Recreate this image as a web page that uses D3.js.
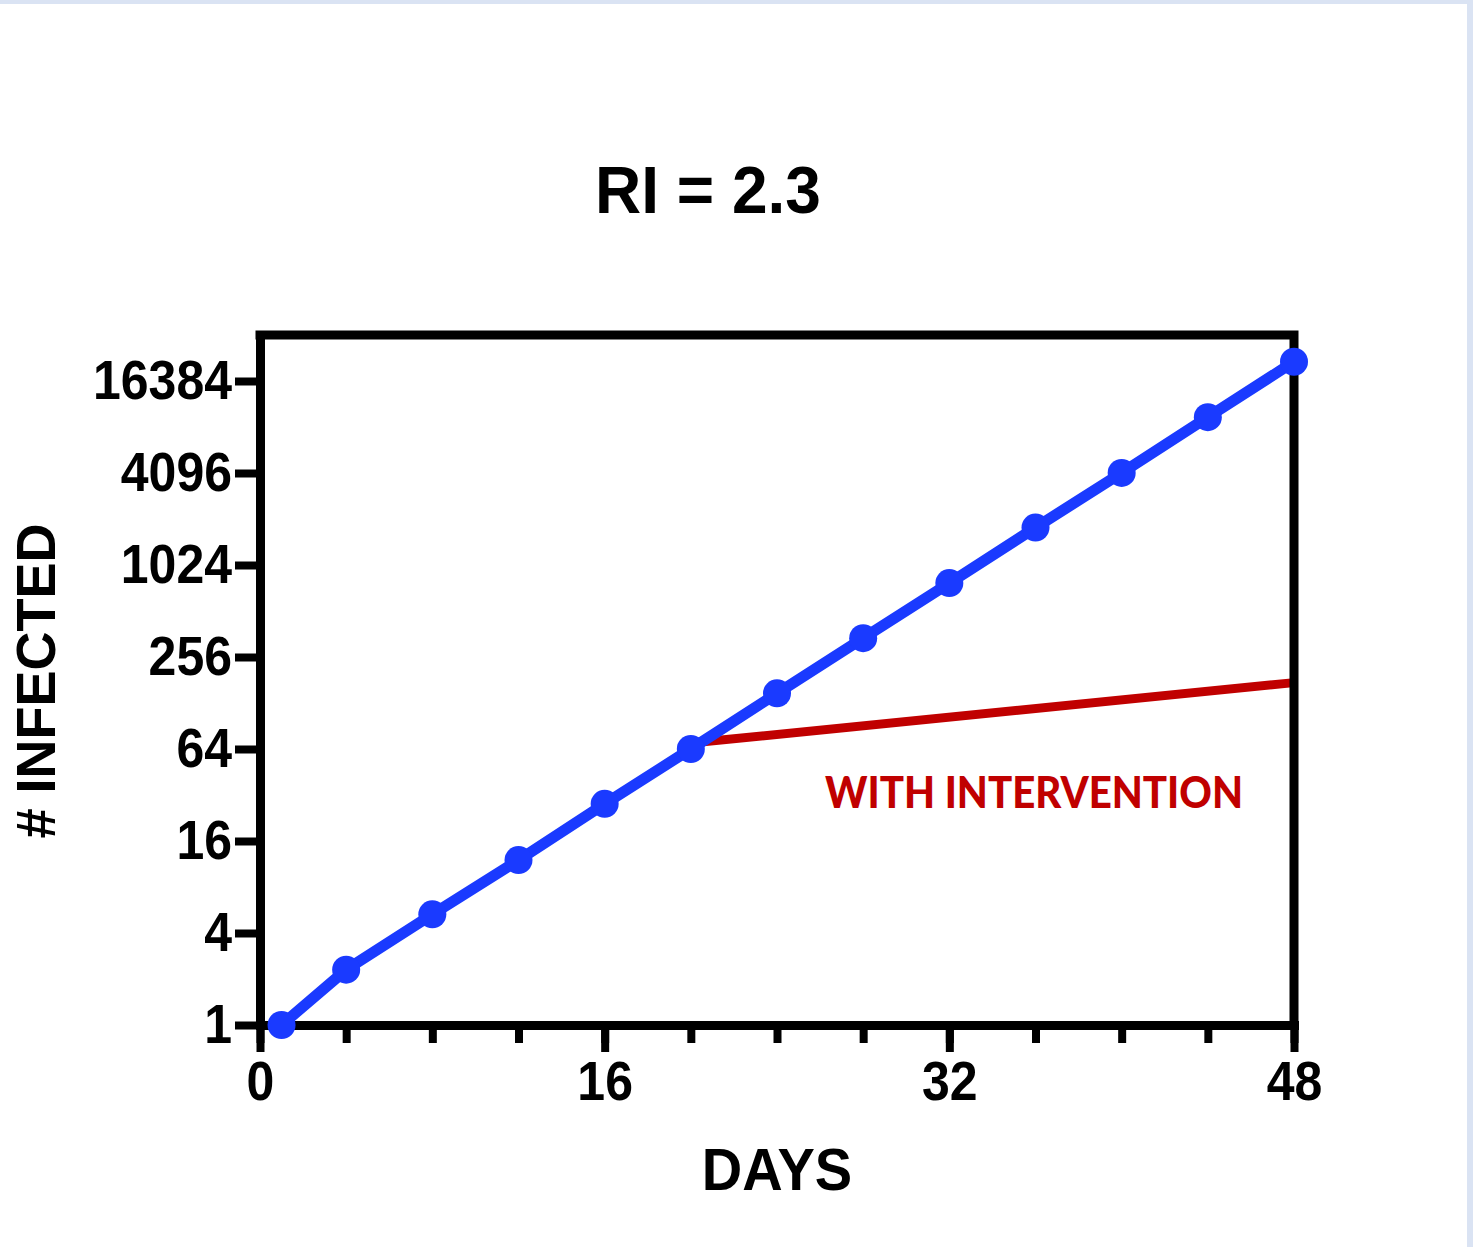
<!DOCTYPE html>
<html lang="en">
<head>
    <meta charset="UTF-8">
    <title>RI = 2.3</title>
    <script src="https://d3js.org/d3.v7.min.js"></script>
    <style>
        body { margin: 0; background: #fff; }
        svg { display: block; }
    </style>
</head>
<body>
<script>
    // data
    var days = [1, 4, 8, 12, 16, 20, 24, 28, 32, 36, 40, 44, 48];
    var infected = [1, 2.3, 5.3, 12, 28, 64, 148, 340, 780, 1800, 4100, 9500, 21900];
    var interventionDays = [20, 48];
    var interventionInfected = [70, 174];
    var yTicks = [1, 4, 16, 64, 256, 1024, 4096, 16384];
    var xTicks = [0, 16, 32, 48];
    var xMinorTicks = [0, 4, 8, 12, 16, 20, 24, 28, 32, 36, 40, 44, 48];

    var W = 1473, H = 1247;
    var boldFont = "'Liberation Sans', Arial, sans-serif";

    var svg = d3.select("body").append("svg")
        .attr("width", W)
        .attr("height", H);

    // page border (top and right)
    svg.append("rect").attr("x", 0).attr("y", 0).attr("width", W).attr("height", 4).attr("fill", "#dae3f3");
    svg.append("rect").attr("x", 1467).attr("y", 0).attr("width", 6).attr("height", H).attr("fill", "#dae3f3");

    // scales
    var x = d3.scaleLinear().domain([0, 48]).range([260, 1294]);
    var y = d3.scaleLog().base(2).domain([1, 32768]).range([1025, 335]);

    // title
    svg.append("text")
        .attr("transform", "translate(708,213) scale(1,1.05)")
        .attr("text-anchor", "middle")
        .style("font-family", boldFont)
        .style("font-weight", "bold")
        .style("font-size", "64px")
        .text("RI = 2.3");

    // red intervention line (under the frame)
    var line = d3.line()
        .x(function (d) { return x(d[0]); })
        .y(function (d) { return y(d[1]); });

    svg.append("path")
        .datum(d3.zip(interventionDays, interventionInfected))
        .attr("d", line)
        .attr("fill", "none")
        .attr("stroke", "#c00000")
        .attr("stroke-width", 9);

    // frame top + right
    svg.append("path")
        .attr("d", "M" + x(0) + "," + y(32768) + "H" + x(48) + "V" + y(1))
        .attr("fill", "none")
        .attr("stroke", "#000")
        .attr("stroke-width", 9)
        .attr("stroke-linecap", "square");

    // y axis
    var yAxis = svg.append("g")
        .attr("transform", "translate(" + x(0) + ",0)")
        .call(d3.axisLeft(y).tickValues(yTicks).tickSize(25).tickSizeOuter(0).tickFormat(d3.format("d")));

    // x axis minor ticks
    var xMinor = svg.append("g")
        .attr("transform", "translate(0," + y(1) + ")")
        .call(d3.axisBottom(x).tickValues(xMinorTicks).tickSize(18).tickSizeOuter(0).tickFormat(""));
    xMinor.select(".domain").remove();

    // x axis major ticks
    var xAxis = svg.append("g")
        .attr("transform", "translate(0," + y(1) + ")")
        .call(d3.axisBottom(x).tickValues(xTicks).tickSize(27).tickSizeOuter(0).tickFormat(d3.format("d")));

    [yAxis, xMinor, xAxis].forEach(function (g) {
        g.selectAll(".domain").attr("stroke-width", 9).attr("stroke-linecap", "square");
        g.selectAll(".tick line").attr("stroke-width", 8);
        g.selectAll(".tick text")
            .style("font-family", boldFont)
            .style("font-weight", "bold")
            .style("font-size", "50px")
            .attr("fill", "#000");
    });

    yAxis.selectAll(".tick text")
        .attr("x", -28)
        .attr("transform", "scale(1,1.1)");

    xAxis.selectAll(".tick text")
        .attr("y", 68)
        .attr("dy", 0)
        .attr("transform", "scale(1,1.1)");

    // axis titles
    svg.append("text")
        .attr("transform", "translate(55,681) rotate(-90) scale(1,1.03)")
        .attr("text-anchor", "middle")
        .style("font-family", boldFont)
        .style("font-weight", "bold")
        .style("font-size", "54px")
        .text("# INFECTED");

    svg.append("text")
        .attr("transform", "translate(777,1190) scale(1,1.05)")
        .attr("text-anchor", "middle")
        .style("font-family", boldFont)
        .style("font-weight", "bold")
        .style("font-size", "56px")
        .text("DAYS");

    // blue series on top
    var points = d3.zip(days, infected);

    svg.append("path")
        .datum(points)
        .attr("d", line)
        .attr("fill", "none")
        .attr("stroke", "#1a3aff")
        .attr("stroke-width", 11);

    svg.selectAll("circle.pt")
        .data(points)
        .enter().append("circle")
        .attr("class", "pt")
        .attr("cx", function (d) { return x(d[0]); })
        .attr("cy", function (d) { return y(d[1]); })
        .attr("r", 14)
        .attr("fill", "#1a3aff");

    // annotation
    svg.append("text")
        .attr("x", 825)
        .attr("y", 808)
        .attr("textLength", 418)
        .attr("lengthAdjust", "spacingAndGlyphs")
        .style("font-family", "Lato, 'Open Sans', sans-serif")
        .style("font-weight", "900")
        .style("font-size", "44px")
        .attr("fill", "#c00000")
        .text("WITH INTERVENTION");
</script>
</body>
</html>
